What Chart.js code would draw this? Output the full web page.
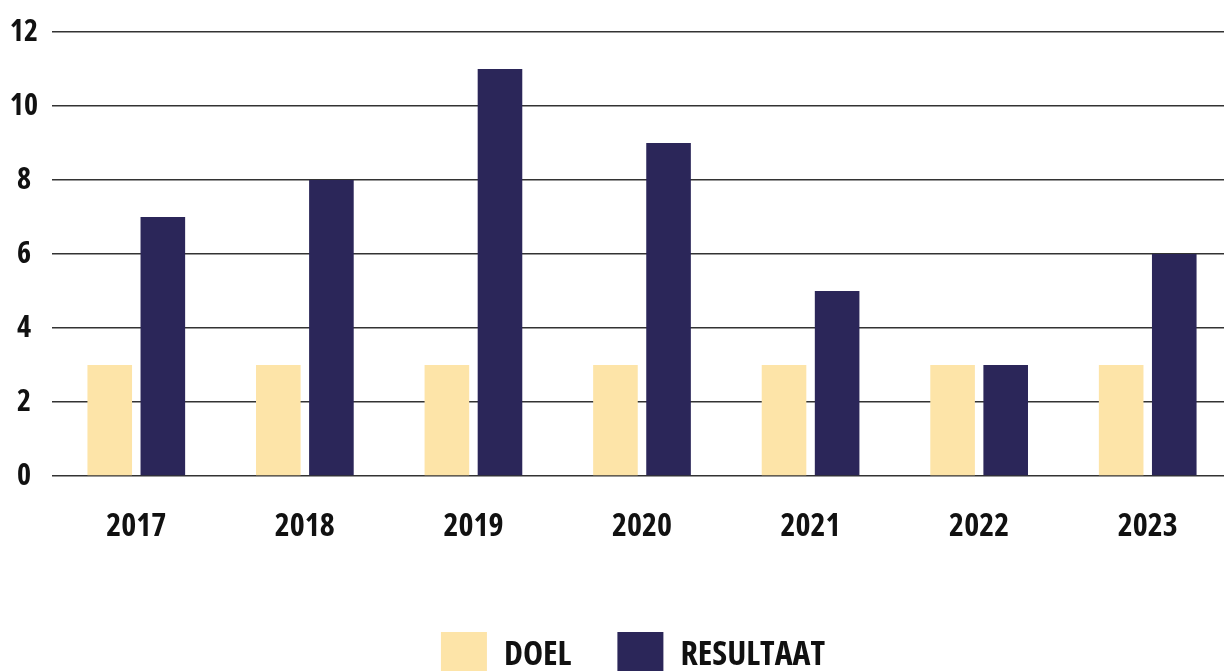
<!DOCTYPE html>
<html>
<head>
<meta charset="utf-8">
<script src="https://cdn.jsdelivr.net/npm/chart.js@4"></script>
<style>
  html, body { margin: 0; padding: 0; background: #fff; overflow: hidden; }
  #wrap { position: relative; width: 1266px; height: 690px; }
</style>
</head>
<body>
<div id="wrap"><canvas id="doelChart"></canvas></div>
<script>
// data
const jaren = ['2017', '2018', '2019', '2020', '2021', '2022', '2023'];
const doel = [3, 3, 3, 3, 3, 3, 3];
const resultaat = [7, 8, 11, 9, 5, 3, 6];
const yTicks = [0, 2, 4, 6, 8, 10, 12];

// smalle vette letter (Open Sans met wdth-as)
const fontFam = "'Open Sans', 'Roboto', sans-serif";
const fontWeight = 'condensed bold';

// legenda iets naar rechts, zoals in het origineel
const legendShift = {
  id: 'legendShift',
  afterLayout: function (chart) {
    chart.legend.left += 34;
  }
};

const ctx = document.getElementById('doelChart').getContext('2d');
const myChart = new Chart(ctx, {
  type: 'bar',
  data: {
    labels: jaren,
    datasets: [
      {
        label: 'DOEL',
        data: doel,
        backgroundColor: '#FDE4A8',
        borderWidth: 0,
        barPercentage: 0.84,
        categoryPercentage: 0.63
      },
      {
        label: 'RESULTAAT',
        data: resultaat,
        backgroundColor: '#2B2659',
        borderWidth: 0,
        barPercentage: 0.84,
        categoryPercentage: 0.63
      }
    ]
  },
  plugins: [legendShift],
  options: {
    responsive: true,
    maintainAspectRatio: false,
    animation: false,
    layout: { padding: { left: 0, right: 34, top: 14, bottom: 2 } },
    plugins: {
      tooltip: { enabled: false },
      legend: {
        position: 'bottom',
        labels: {
          boxWidth: 46,
          boxHeight: 46,
          padding: 46,
          color: '#111',
          font: { family: fontFam, size: 34, weight: fontWeight }
        }
      }
    },
    scales: {
      x: {
        grid: { display: false },
        border: { display: false },
        ticks: {
          color: '#111',
          padding: 24,
          font: { family: fontFam, size: 32, weight: fontWeight }
        },
        afterFit: function (scale) { scale.height = 110; }
      },
      y: {
        min: 0,
        max: 12,
        afterBuildTicks: function (scale) {
          scale.ticks = yTicks.map(function (v) { return { value: v }; });
        },
        grid: { color: '#333', lineWidth: 1.6, drawTicks: false },
        border: { display: false },
        ticks: {
          color: '#111',
          padding: 14,
          crossAlign: 'center',
          font: { family: fontFam, size: 30, weight: fontWeight }
        },
        afterFit: function (scale) { scale.width = 52; }
      }
    }
  }
});
</script>
</body>
</html>
